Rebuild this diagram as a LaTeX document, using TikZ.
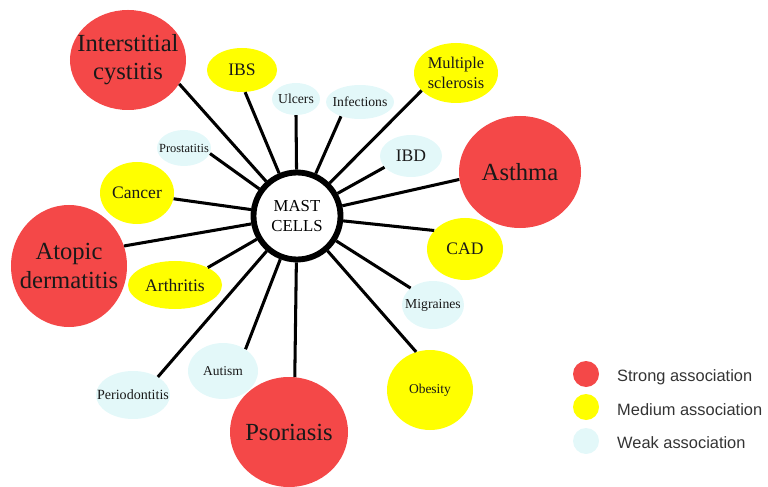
\documentclass[tikz,border=0pt]{standalone}
\usepackage{fontspec}
\setmainfont{Liberation Serif}
\newfontfamily\legendfont{Liberation Sans}
\usetikzlibrary{shapes.geometric}

\definecolor{strongred}{HTML}{F44848}
\definecolor{mediumyellow}{HTML}{FFFF00}
\definecolor{weakcyan}{HTML}{E3F8F9}
\definecolor{keytext}{HTML}{333333}

\tikzset{assoc/.style = {ellipse, inner sep = -1cm, align = center, text = black!90},
         strong/.style = {assoc, fill = strongred, font = \fontsize{21}{24}\selectfont},
         medium/.style = {assoc, fill = mediumyellow, font = \fontsize{15}{18}\selectfont},
         weak/.style = {assoc, fill = weakcyan, font = \fontsize{11.7}{14}\selectfont},
         blob/.style 2 args = {minimum width = #1, minimum height = #2},
         spoke/.style = {line width = 2.6pt},
         keydot/.style = {circle, inner sep = 0pt, minimum size = 0.78cm},
         keylabel/.style = {anchor = west, inner sep = 0pt, text = keytext,
                            font = \legendfont\fontsize{14}{16}\selectfont}
        }

\begin{document}
\begin{tikzpicture}[x=0.03cm, y=-0.03cm]
  \useasboundingbox (0, 0) rectangle (768, 487);
  \node[circle, draw, line width = 5pt, minimum size = 2.61cm, align = center,
        font = \fontsize{14.3}{17}\selectfont] (hub) at (297, 216) {MAST\\CELLS};
  % strong
  \node[strong, blob = {3.48cm}{3cm}] (ic) at (128, 60) {Interstitial\\cystitis};
  \node[strong, blob = {3.66cm}{3.36cm}] (asthma) at (520, 172) {Asthma};
  \node[strong, blob = {3.48cm}{3.66cm}] (atopic) at (69, 266) {Atopic\\dermatitis};
  \node[strong, blob = {3.54cm}{3.3cm}] (psor) at (289, 432) {Psoriasis};
  % medium
  \node[medium, blob = {2.1cm}{1.32cm}] (ibs) at (242, 70) {IBS};
  \node[medium, blob = {2.22cm}{1.86cm}] (cancer) at (137, 193) {Cancer};
  \node[medium, blob = {2.52cm}{1.8cm}, font = \fontsize{14}{17}\selectfont] (ms) at (456, 73) {Multiple\\sclerosis};
  \node[medium, blob = {2.28cm}{1.86cm}] (cad) at (465, 249) {CAD};
  \node[medium, blob = {2.82cm}{1.44cm}] (arth) at (175, 285) {Arthritis};
  \node[medium, blob = {2.58cm}{2.4cm}, font = \fontsize{11.5}{14}\selectfont] (obes) at (430, 390) {Obesity};
  % weak
  \node[weak, blob = {1.44cm}{0.96cm}] (ulcers) at (296, 99) {Ulcers};
  \node[weak, blob = {2.04cm}{1.02cm}] (infect) at (360, 102) {Infections};
  \node[weak, blob = {1.62cm}{1.08cm}, font = \fontsize{10.6}{13}\selectfont] (prost) at (184, 148) {Prostatitis};
  \node[weak, blob = {1.86cm}{1.26cm}, font = \fontsize{15}{18}\selectfont] (ibd) at (411, 156) {IBD};
  \node[weak, blob = {1.86cm}{1.44cm}] (migr) at (433, 305) {Migraines};
  \node[weak, blob = {2.1cm}{1.68cm}, font = \fontsize{11.5}{14}\selectfont] (autism) at (223, 371) {Autism};
  \node[weak, blob = {2.22cm}{1.44cm}, font = \fontsize{12}{14}\selectfont] (perio) at (133, 395) {Periodontitis};

  \draw[spoke] (hub) -- (ic.-25);
  \draw[spoke] (hub) -- (ibs.-82);
  \draw[spoke] (hub) -- (ulcers.south);
  \draw[spoke] (hub) -- (infect.-143);
  \draw[spoke] (hub) -- (ms.-153);
  \draw[spoke] (hub) -- (ibd.-157);
  \draw[spoke] (hub) -- (asthma.187);
  \draw[spoke] (hub) -- (cad.149);
  \draw[spoke] (hub) -- (migr.143);
  \draw[spoke] (hub) -- (obes.110);
  \draw[spoke] (hub) -- (psor.84);
  \draw[spoke] (hub) -- (autism.44);
  \draw[spoke] (hub) -- (perio.36);
  \draw[spoke] (hub) -- (arth.28);
  \draw[spoke] (hub) -- (atopic.20);
  \draw[spoke] (hub) -- (cancer.-9);
  \draw[spoke] (hub) -- (prost.-12);

  % key
  \node[keydot, fill = strongred] (keystrong) at (586, 374) {};
  \node[keydot, fill = mediumyellow] (keymedium) at (586, 407) {};
  \node[keydot, fill = weakcyan] (keyweak) at (586, 441) {};
  \node[keylabel] (keystronglbl) at (617, 377) {Strong association};
  \node[keylabel] (keymediumlbl) at (617, 410) {Medium association};
  \node[keylabel] (keyweaklbl) at (617, 443) {Weak association};
\end{tikzpicture}
\end{document}
